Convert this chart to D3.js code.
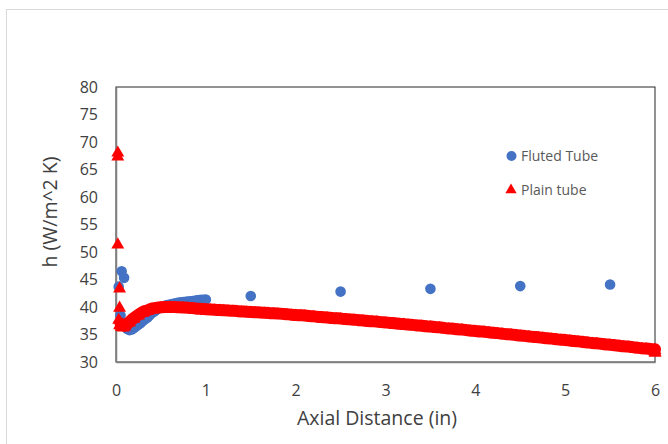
<!DOCTYPE html>
<html><head><meta charset="utf-8">
<script src="https://cdn.jsdelivr.net/npm/d3@7/dist/d3.min.js"></script>
<style>body{margin:0;background:#fff}svg{display:block}text{font-family:"Open Sans",sans-serif}</style>
</head><body><svg id="c" width="668" height="444"></svg>
<script>
// ---- data ----
const seriesNames = ["Fluted Tube", "Plain tube"];
const xTicks = [0, 1, 2, 3, 4, 5, 6];
const yTicks = [30, 35, 40, 45, 50, 55, 60, 65, 70, 75, 80];

const flutedX = [0.03, 0.063, 0.09,
  0.05, 0.075, 0.10, 0.125, 0.15, 0.175, 0.20, 0.225, 0.25, 0.275, 0.30, 0.325, 0.35, 0.375, 0.40, 0.425,
  0.45, 0.475, 0.50, 0.525, 0.55, 0.575, 0.60, 0.625, 0.65, 0.675, 0.70, 0.725, 0.75, 0.775, 0.80, 0.825,
  0.85, 0.875, 0.90, 0.925, 0.95, 0.975, 1.00,
  1.5, 2.5, 3.5, 4.5, 5.5];
const flutedH = [43.7, 46.5, 45.3,
  38.5, 37.2, 36.4, 36.0, 35.8, 35.9, 36.2, 36.5, 36.8, 37.1, 37.5, 37.8, 38.1, 38.5, 38.9, 39.2,
  39.5, 39.75, 39.95, 40.1, 40.25, 40.35, 40.45, 40.55, 40.65, 40.7, 40.8, 40.85, 40.9, 40.95, 41.0, 41.05,
  41.1, 41.15, 41.2, 41.25, 41.3, 41.3, 41.35,
  42.0, 42.8, 43.3, 43.8, 44.1];

const plainX = [0.02, 0.02, 0.02, 0.04, 0.04, 0.03, 0.04, 0.06, 0.08,
  0.05, 0.10, 0.15, 0.20, 0.25, 0.30, 0.35, 0.40, 0.45, 0.50, 0.55, 0.60, 0.65, 0.70, 0.75, 0.80, 0.85, 0.90, 0.95, 1.00,
  1.05, 1.10, 1.15, 1.20, 1.25, 1.30, 1.35, 1.40, 1.45, 1.50, 1.55, 1.60, 1.65, 1.70, 1.75, 1.80, 1.85, 1.90, 1.95, 2.00,
  2.05, 2.10, 2.15, 2.20, 2.25, 2.30, 2.35, 2.40, 2.45, 2.50, 2.55, 2.60, 2.65, 2.70, 2.75, 2.80, 2.85, 2.90, 2.95, 3.00,
  3.05, 3.10, 3.15, 3.20, 3.25, 3.30, 3.35, 3.40, 3.45, 3.50, 3.55, 3.60, 3.65, 3.70, 3.75, 3.80, 3.85, 3.90, 3.95, 4.00,
  4.05, 4.10, 4.15, 4.20, 4.25, 4.30, 4.35, 4.40, 4.45, 4.50, 4.55, 4.60, 4.65, 4.70, 4.75, 4.80, 4.85, 4.90, 4.95, 5.00,
  5.05, 5.10, 5.15, 5.20, 5.25, 5.30, 5.35, 5.40, 5.45, 5.50, 5.55, 5.60, 5.65, 5.70, 5.75, 5.80, 5.85, 5.90, 5.95, 6.00,
  6.00, 6.00];
const plainH = [67.5, 68.2, 51.5, 43.5, 40.0, 37.8, 36.8, 36.5, 36.4,
  37.0, 36.6, 37.3, 38.0, 38.6, 39.1, 39.4, 39.7, 39.85, 39.95, 40.0, 40.0, 40.0, 39.95, 39.9, 39.85, 39.8, 39.7, 39.65, 39.6,
  39.55, 39.5, 39.45, 39.4, 39.35, 39.3, 39.25, 39.2, 39.15, 39.1, 39.05, 39.0, 38.95, 38.9, 38.85, 38.8, 38.75, 38.7, 38.6, 38.55,
  38.5, 38.45, 38.35, 38.3, 38.2, 38.15, 38.1, 38.0, 37.95, 37.9, 37.8, 37.75, 37.7, 37.6, 37.55, 37.45, 37.4, 37.35, 37.25, 37.2,
  37.1, 37.05, 36.95, 36.9, 36.8, 36.75, 36.65, 36.6, 36.5, 36.45, 36.35, 36.3, 36.2, 36.1, 36.05, 35.95, 35.9, 35.8, 35.7, 35.65,
  35.55, 35.5, 35.4, 35.3, 35.25, 35.15, 35.05, 35.0, 34.9, 34.8, 34.75, 34.65, 34.55, 34.5, 34.4, 34.3, 34.25, 34.15, 34.05, 34.0,
  33.9, 33.8, 33.75, 33.65, 33.55, 33.45, 33.4, 33.3, 33.2, 33.15, 33.05, 32.95, 32.85, 32.8, 32.7, 32.6, 32.5, 32.45, 32.35, 32.3,
  32.0, 31.8];

// ---- layout ----
const svg = d3.select("#c");
const L = 116, R = 655, T = 87, B = 362;
const x = d3.scaleLinear().domain([0, 6]).range([L, R]);
const y = d3.scaleLinear().domain([30, 80]).range([B, T]);
const blue = "#4472C4", red = "#FF0000";

svg.append("rect").attr("x", 6.5).attr("y", 9.5).attr("width", 700).attr("height", 500)
  .attr("fill", "#fff").attr("stroke", "#d9d9d9").attr("stroke-width", 1);

// plot box
svg.append("rect").attr("x", L).attr("y", T).attr("width", R - L).attr("height", B - T)
  .attr("fill", "none").attr("stroke", "#262626").attr("stroke-width", 1);

// axes
const gx = svg.append("g").attr("transform", `translate(0,${B})`)
  .call(d3.axisBottom(x).tickValues(xTicks).tickSize(0).tickPadding(23).tickFormat(d3.format("d")));
gx.select(".domain").attr("stroke", "#808080").attr("stroke-width", 1.5);
gx.selectAll("text").attr("font-size", 16).attr("fill", "#404040").style("font-family", "Open Sans");

const gy = svg.append("g").attr("transform", `translate(${L},0)`)
  .call(d3.axisLeft(y).tickValues(yTicks).tickSize(0).tickPadding(18).tickFormat(d3.format("d")));
gy.select(".domain").attr("stroke", "#808080").attr("stroke-width", 1.5);
gy.selectAll("text").attr("font-size", 16).attr("fill", "#404040").style("font-family", "Open Sans");

// titles
svg.append("text").attr("x", 377).attr("y", 425).attr("text-anchor", "middle")
  .attr("font-size", 19.5).attr("fill", "#404040").text("Axial Distance (in)");
svg.append("text").attr("transform", "translate(57,212) rotate(-90)").attr("text-anchor", "middle")
  .attr("font-size", 19.5).attr("fill", "#404040").text("h (W/m^2 K)");

// series
const fluted = flutedX.map((v, i) => ({x: v, h: flutedH[i]}));
const plain = plainX.map((v, i) => ({x: v, h: plainH[i]}));

svg.append("g").selectAll("circle").data(fluted).join("circle")
  .attr("cx", d => x(d.x)).attr("cy", d => y(d.h)).attr("r", 5.3).attr("fill", blue);

// dense run of plain-tube markers merges into a solid band
const dense = plain.slice(9, plain.length - 2);
svg.append("path").datum(dense)
  .attr("d", d3.line().x(d => x(d.x)).y(d => y(d.h)).curve(d3.curveMonotoneX))
  .attr("fill", "none").attr("stroke", red).attr("stroke-width", 12)
  .attr("stroke-linejoin", "round").attr("stroke-linecap", "round");

const tri = d3.symbol().type(d3.symbolTriangle).size(72);
svg.append("g").selectAll("path").data(plain).join("path")
  .attr("d", tri).attr("transform", d => `translate(${x(d.x)},${y(d.h) + 1})`).attr("fill", red);

// legend
const lg = svg.append("g");
lg.append("circle").attr("cx", 511.5).attr("cy", 156).attr("r", 5).attr("fill", blue);
lg.append("text").attr("x", 521).attr("y", 161).attr("font-size", 14).attr("fill", "#595959").text(seriesNames[0]);
lg.append("path").attr("d", d3.symbol().type(d3.symbolTriangle).size(55)).attr("transform", "translate(511,190)").attr("fill", red);
lg.append("text").attr("x", 521).attr("y", 195).attr("font-size", 14).attr("fill", "#595959").text(seriesNames[1]);
</script></body></html>
